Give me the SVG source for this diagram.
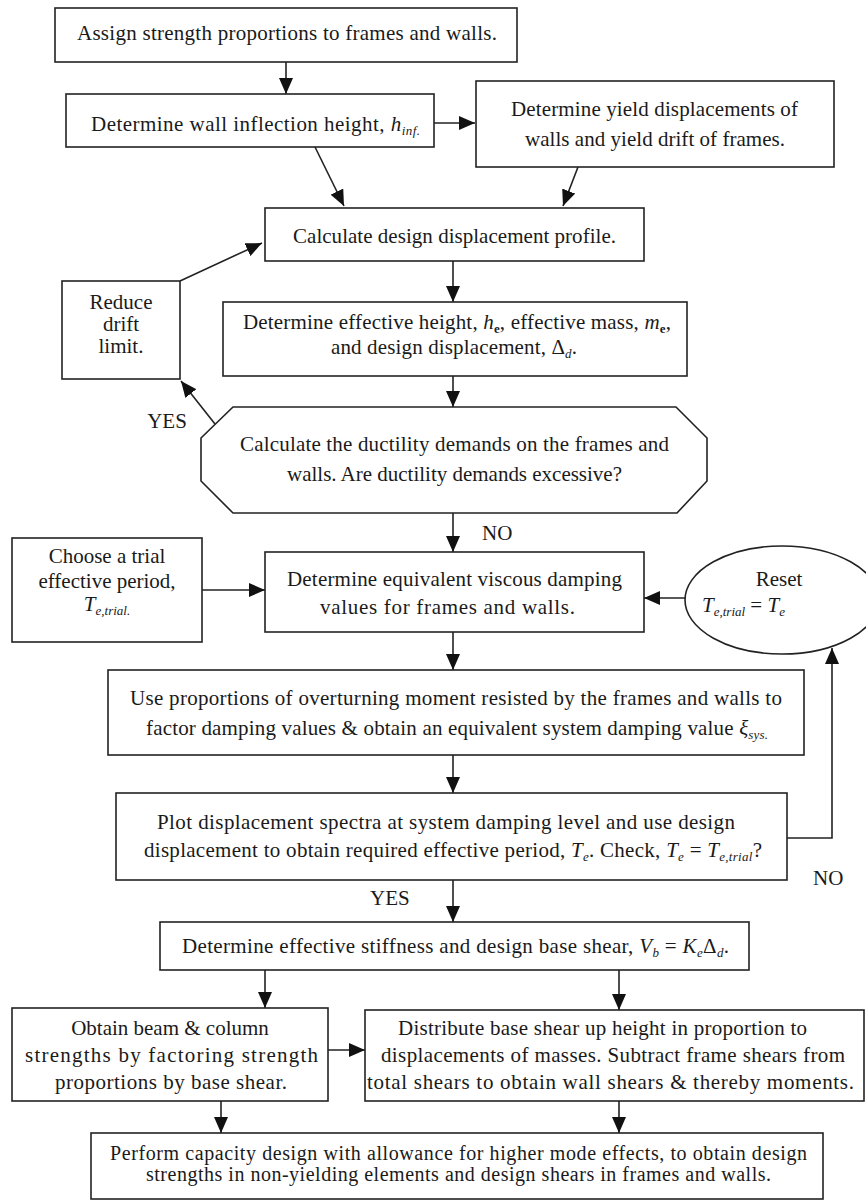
<svg xmlns="http://www.w3.org/2000/svg" width="866" height="1203" viewBox="0 0 866 1203">
<style>
.box{fill:#fff;stroke:#222;stroke-width:1.6}
.ln{fill:none;stroke:#222;stroke-width:1.6}
text{font-family:"Liberation Serif","Times New Roman",serif;font-size:21px;fill:#1a1a1a}
.c{text-anchor:middle}
.i{font-style:italic}
.s{font-size:13px;font-style:italic}
.f{font-size:20px}
</style>
<defs>
<marker id="ah" markerUnits="userSpaceOnUse" markerWidth="16" markerHeight="14" refX="16" refY="7" orient="auto">
<path d="M0,0 L16,7 L0,14 z" fill="#111"/>
</marker>
</defs>
<rect width="866" height="1203" fill="#fff"/>

<g id="connectors">
<line class="ln" x1="286" y1="62" x2="286" y2="94" marker-end="url(#ah)"/>
<line class="ln" x1="434" y1="123" x2="475" y2="123" marker-end="url(#ah)"/>
<line class="ln" x1="315" y1="147" x2="344" y2="206" marker-end="url(#ah)"/>
<line class="ln" x1="578" y1="167" x2="563" y2="206" marker-end="url(#ah)"/>
<line class="ln" x1="453" y1="261" x2="453" y2="302" marker-end="url(#ah)"/>
<line class="ln" x1="180" y1="281" x2="262" y2="243" marker-end="url(#ah)"/>
<line class="ln" x1="453" y1="376" x2="453" y2="407" marker-end="url(#ah)"/>
<line class="ln" x1="215" y1="424" x2="181" y2="381" marker-end="url(#ah)"/>
<line class="ln" x1="453" y1="513" x2="453" y2="552" marker-end="url(#ah)"/>
<line class="ln" x1="202" y1="590" x2="265" y2="590" marker-end="url(#ah)"/>
<line class="ln" x1="685" y1="598" x2="644" y2="598" marker-end="url(#ah)"/>
<line class="ln" x1="453" y1="632" x2="453" y2="670" marker-end="url(#ah)"/>
<line class="ln" x1="453" y1="755" x2="453" y2="793" marker-end="url(#ah)"/>
<polyline class="ln" points="787,838 832,838 832,648" marker-end="url(#ah)"/>
<line class="ln" x1="453" y1="880" x2="453" y2="922" marker-end="url(#ah)"/>
<line class="ln" x1="265" y1="970" x2="265" y2="1008" marker-end="url(#ah)"/>
<line class="ln" x1="619" y1="970" x2="619" y2="1010" marker-end="url(#ah)"/>
<line class="ln" x1="328" y1="1050" x2="365" y2="1050" marker-end="url(#ah)"/>
<line class="ln" x1="221" y1="1101" x2="221" y2="1133" marker-end="url(#ah)"/>
<line class="ln" x1="619" y1="1101" x2="619" y2="1133" marker-end="url(#ah)"/>
<text class="c" x="167" y="428">YES</text>
<text x="482" y="540">NO</text>
<text x="813" y="885">NO</text>
<text x="370" y="905">YES</text>
</g>

<g id="n1">
<rect class="box" x="55" y="8" width="462" height="54"/>
<text x="77" y="40" textLength="420">Assign strength proportions to frames and walls.</text>
</g>

<g id="n2">
<rect class="box" x="66" y="94" width="368" height="53"/>
<text x="91" y="131" textLength="329">Determine wall inflection height, <tspan class="i">h</tspan><tspan class="s" dy="4">inf.</tspan></text>
</g>

<g id="n3">
<rect class="box" x="476" y="81" width="358" height="86"/>
<text x="511" y="116" textLength="287">Determine yield displacements of</text>
<text x="525" y="146" textLength="260">walls and yield drift of frames.</text>
</g>

<g id="n4">
<rect class="box" x="265" y="208" width="379" height="53"/>
<text x="293" y="243" textLength="323">Calculate design displacement profile.</text>
</g>

<g id="n5">
<rect class="box" x="223" y="302" width="464" height="74"/>
<text x="243" y="329" textLength="428">Determine effective height, <tspan class="i">h</tspan><tspan font-size="13" font-weight="bold" dy="4">e</tspan><tspan dy="-4">, effective mass, </tspan><tspan class="i">m</tspan><tspan font-size="13" font-weight="bold" dy="4">e</tspan><tspan dy="-4">,</tspan></text>
<text x="331" y="354" textLength="246">and design displacement, Δ<tspan class="s" dy="4">d</tspan><tspan dy="-4">.</tspan></text>
</g>

<g id="n_reduce">
<rect class="box" x="62" y="281" width="118" height="98"/>
<text class="c" x="121" y="309">Reduce</text>
<text class="c" x="121" y="331">drift</text>
<text class="c" x="121" y="353">limit.</text>
</g>

<g id="n_ductility">
<polygon class="box" points="233,407 676,407 707,438 707,481 677,513 233,513 201,481 201,438"/>
<text x="240" y="451" textLength="429">Calculate the ductility demands on the frames and</text>
<text x="287" y="481" textLength="335">walls. Are ductility demands excessive?</text>
</g>

<g id="n_choose">
<rect class="box" x="12" y="538" width="190" height="104"/>
<text class="c" x="107" y="563">Choose a trial</text>
<text class="c" x="107" y="588">effective period,</text>
<text class="c" x="107" y="611"><tspan class="i">T</tspan><tspan class="s" dy="4">e,trial.</tspan></text>
</g>

<g id="n_viscous">
<rect class="box" x="265" y="552" width="379" height="80"/>
<text x="287" y="586" textLength="335">Determine equivalent viscous damping</text>
<text x="320" y="614" textLength="255">values for frames and walls.</text>
</g>

<g id="n_reset">
<ellipse class="box" cx="782" cy="600" rx="97" ry="54"/>
<text class="c" x="779" y="586">Reset</text>
<text x="702" y="612"><tspan class="i">T</tspan><tspan class="s" dy="4">e,trial</tspan><tspan dy="-4"> = </tspan><tspan class="i">T</tspan><tspan class="s" dy="4">e</tspan></text>
</g>

<g id="n_overturning">
<rect class="box" x="108" y="670" width="696" height="85"/>
<text x="130" y="705" textLength="652">Use proportions of overturning moment resisted by the frames and walls to</text>
<text x="146" y="735" textLength="622">factor damping values &amp; obtain an equivalent system damping value <tspan class="i">ξ</tspan><tspan class="s" dy="4">sys.</tspan></text>
</g>

<g id="n_plot">
<rect class="box" x="116" y="793" width="671" height="87"/>
<text x="157" y="829" textLength="578">Plot displacement spectra at system damping level and use design</text>
<text x="144" y="857" textLength="618">displacement to obtain required effective period, <tspan class="i">T</tspan><tspan class="s" dy="4">e</tspan><tspan dy="-4">. Check, </tspan><tspan class="i">T</tspan><tspan class="s" dy="4">e</tspan><tspan dy="-4"> = </tspan><tspan class="i">T</tspan><tspan class="s" dy="4">e,trial</tspan><tspan dy="-4">?</tspan></text>
</g>

<g id="n_stiffness">
<rect class="box" x="160" y="922" width="589" height="48"/>
<text x="182" y="953" textLength="547">Determine effective stiffness and design base shear, <tspan class="i">V</tspan><tspan class="s" dy="4">b</tspan><tspan dy="-4"> = </tspan><tspan class="i">K</tspan><tspan class="s" dy="4">e</tspan><tspan dy="-4">Δ</tspan><tspan class="s" dy="4">d</tspan><tspan dy="-4">.</tspan></text>
</g>

<g id="n_obtain">
<rect class="box" x="12" y="1008" width="316" height="93"/>
<text class="c" x="170" y="1035">Obtain beam &amp; column</text>
<text x="25" y="1062" textLength="293">strengths by factoring strength</text>
<text x="55" y="1089" textLength="232">proportions by base shear.</text>
</g>

<g id="n_distribute">
<rect class="box" x="365" y="1010" width="499" height="91"/>
<text x="398" y="1035" textLength="409">Distribute base shear up height in proportion to</text>
<text x="381" y="1062" textLength="464">displacements of masses. Subtract frame shears from</text>
<text x="367" y="1089" textLength="487">total shears to obtain wall shears &amp; thereby moments.</text>
</g>

<g id="n_final">
<rect class="box" x="91" y="1133" width="732" height="66"/>
<text class="f" x="110" y="1160" textLength="697">Perform capacity design with allowance for higher mode effects, to obtain design</text>
<text class="f" x="146" y="1181" textLength="625">strengths in non-yielding elements and design shears in frames and walls.</text>
</g>
</svg>
